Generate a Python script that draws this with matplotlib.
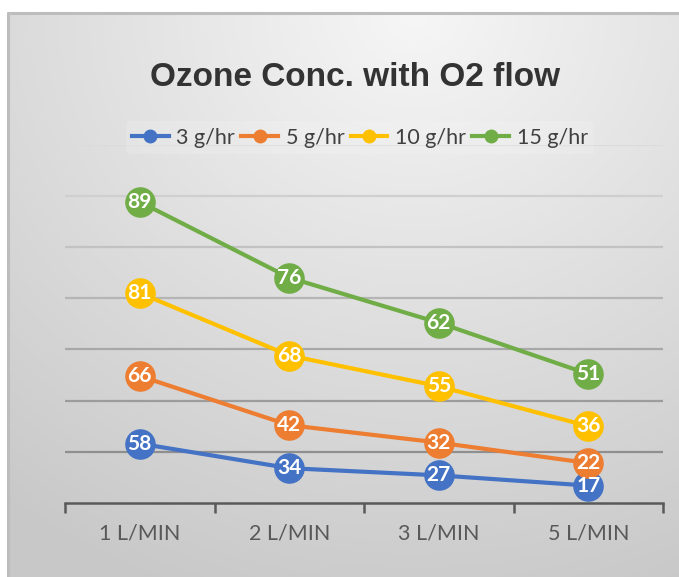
import numpy as np
import matplotlib
matplotlib.use('Agg')
import matplotlib.pyplot as plt
from matplotlib.lines import Line2D

# data (stacked line chart, labels show each series' own value)
categories = ['1 L/MIN', '2 L/MIN', '3 L/MIN', '5 L/MIN']
series_names = ['3 g/hr', '5 g/hr', '10 g/hr', '15 g/hr']
s_3 = [58, 34, 27, 17]
s_5 = [66, 42, 32, 22]
s_10 = [81, 68, 55, 36]
s_15 = [89, 76, 62, 51]
colors = ['#4472C4', '#ED7D31', '#FFC000', '#70AD47']

W, H = 679, 577
fig = plt.figure(figsize=(W / 100, H / 100), dpi=100)
fig.patch.set_facecolor('white')

# gradient chart background
bg = fig.add_axes([7 / W, 0, (W - 7) / W + 0.01, (H - 12) / H], zorder=-5)
yy, xx = np.mgrid[0:1:300j, 0:1:300j]
r = np.sqrt(((xx - 0.6) * 1.1) ** 2 + (yy * 1.0) ** 2)
shade = 0.965 - 0.18 * np.clip(r / 1.1, 0, 1)
bg.imshow(np.dstack([shade] * 3), extent=[0, 1, 0, 1], origin='upper',
          aspect='auto', interpolation='bicubic')
bg.set_xlim(0, 1)
bg.set_ylim(0, 1)
bg.axis('off')
bg.plot([0.001, 0.001, 1], [0, 0.998, 0.998], color='#bdbdbd', lw=2.2,
        clip_on=False)

ax = fig.add_axes([65 / W, 74 / H, (663 - 65) / W, (503 - 144.5) / H])
ax.patch.set_alpha(0)
ax.set_xlim(-0.5, 3.5)
ax.set_ylim(0, 350)

x = np.arange(len(categories))
all_series = [s_3, s_5, s_10, s_15]
cum = np.cumsum(np.array(all_series), axis=0)

# gridlines, darker toward the bottom
grid_vals = np.arange(50, 351, 50)
for i, gv in enumerate(grid_vals):
    g = 0.56 + 0.3 * i / (len(grid_vals) - 1)
    ax.axhline(gv, color=(g, g, g), lw=1.6, zorder=1)

for vals, top, c, name in zip(all_series, cum, colors, series_names):
    ax.plot(x, top, color=c, lw=3.0, marker='o', markersize=21,
            markerfacecolor=c, markeredgecolor=c, zorder=3, label=name)
    for xi, yi, v in zip(x, top, vals):
        ax.text(xi, yi, str(v), ha='center', va='center', color='white',
                fontsize=15, fontweight='bold', family='Lato', zorder=4)

for s in ['top', 'right', 'left']:
    ax.spines[s].set_visible(False)
ax.spines['bottom'].set_color('#595959')
ax.spines['bottom'].set_linewidth(1.8)
ax.set_yticks([])
ax.set_xticks([-0.5, 0.5, 1.5, 2.5, 3.5], minor=False)
ax.set_xticklabels([])
ax.tick_params(axis='x', which='major', length=7, width=1.8, color='#595959',
               direction='out')
ax.set_xticks(x, minor=True)
ax.set_xticklabels(categories, minor=True, fontsize=15.5, family='Lato',
                   color='#595959')
ax.tick_params(axis='x', which='minor', length=0, pad=15)

fig.text(0.523, 0.865, 'Ozone Conc. with O2 flow', ha='center', va='center',
         fontsize=24, fontweight='bold', family='Liberation Sans',
         color='#333333')

handles = [Line2D([0], [0], color=c, lw=3, marker='o', markersize=9)
           for c in colors]
leg = fig.legend(handles, series_names, loc='center', ncol=4,
                 bbox_to_anchor=(0.53, 0.761), frameon=True,
                 prop={'family': 'Lato', 'size': 15.5},
                 handlelength=1.7, handletextpad=0.35, columnspacing=0.3,
                 borderpad=0.3)
leg.get_frame().set_facecolor('white')
leg.get_frame().set_alpha(0.15)
leg.get_frame().set_edgecolor('none')
for t in leg.get_texts():
    t.set_color('#404040')

fig.savefig('out.png', dpi=100)
